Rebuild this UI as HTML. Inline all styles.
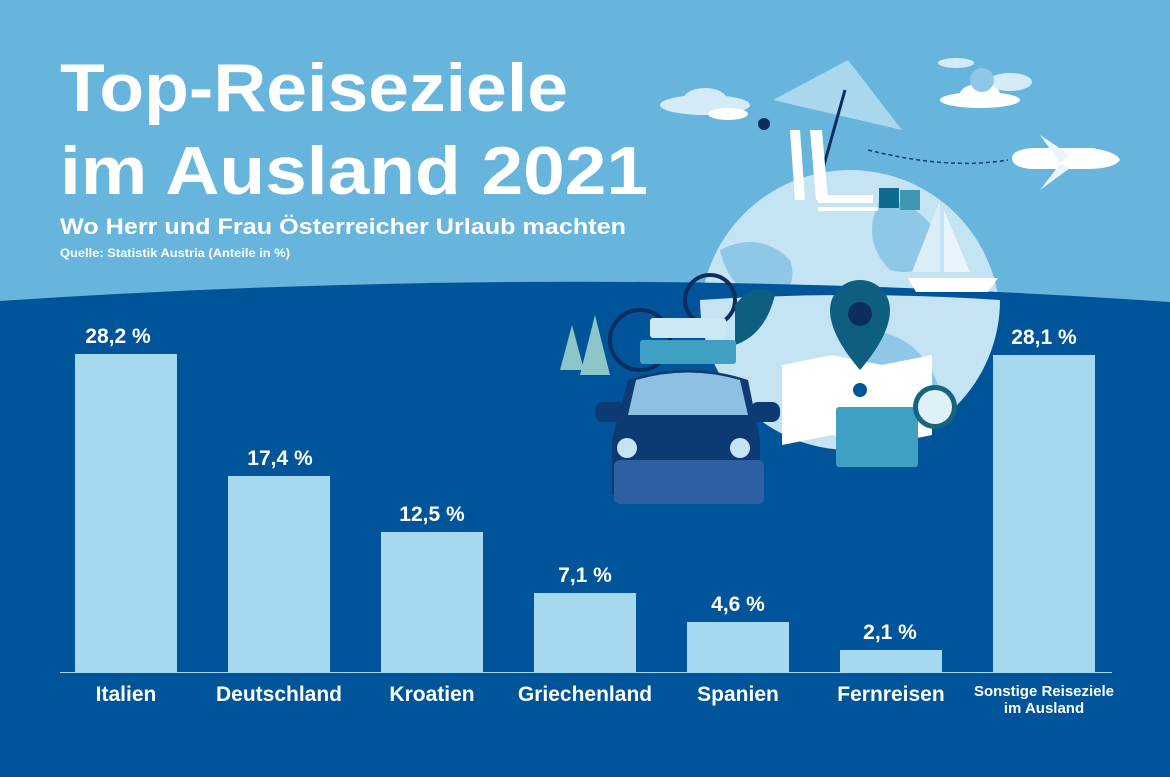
<!DOCTYPE html>
<html><head><meta charset="utf-8"><style>
html,body{margin:0;padding:0;width:1170px;height:777px;overflow:hidden;background:#00549a}
svg{display:block}
text{font-family:"Liberation Sans",sans-serif;font-weight:bold;fill:#fff}
</style></head><body>
<svg width="1170" height="777" viewBox="0 0 1170 777" xmlns="http://www.w3.org/2000/svg">
<rect width="1170" height="777" fill="#67b5dc"/>
<g fill="#d4ebf7">
<ellipse cx="705" cy="105" rx="45" ry="10"/><ellipse cx="705" cy="100" rx="22" ry="12"/>
<ellipse cx="956" cy="63" rx="18" ry="5"/>
<ellipse cx="1010" cy="82" rx="22" ry="9"/>
</g>
<g fill="#fff"><ellipse cx="728" cy="114" rx="20" ry="6"/><ellipse cx="980" cy="100" rx="40" ry="8"/><ellipse cx="980" cy="94" rx="20" ry="10"/></g>
<circle cx="982" cy="80" r="12" fill="#8fc8e6"/>
<circle cx="850" cy="320" r="150" fill="#c4e3f3"/>
<path d="M720 250 q40 -20 70 10 q10 30 -20 40 q-40 -5 -50 -50z M880 200 q40 0 60 40 q-10 40 -50 30 q-30 -30 -10 -70z M820 330 q40 -10 60 30 q0 50 -40 80 q-30 -40 -20 -110z" fill="#8fc8e6"/>
<path d="M773 100 L848 60 L902 130 Z" fill="#a9d7ee"/>
<line x1="845" y1="90" x2="822" y2="172" stroke="#0d2d5e" stroke-width="3"/>
<path d="M790 130 l10 0 l5 70 l-10 0z M810 130 l12 0 l6 70 l-12 0z" fill="#fff"/>
<circle cx="764" cy="124" r="6" fill="#0d2d5e"/>
<path d="M818 195 h55 v8 h-55z M818 207 h60 v4 h-60z" fill="#fff"/>
<rect x="879" y="188" width="20" height="20" fill="#0f6a8f"/><rect x="900" y="190" width="20" height="20" fill="#3f98b0"/>
<path d="M1012 158 q0 -8 20 -10 h60 q25 4 28 12 q-5 8 -30 9 h-60 q-18 -2 -18 -11z" fill="#fff"/>
<path d="M1040 135 l30 20 l-10 8z M1040 190 l30 -22 l-10 -4z" fill="#eaf5fb"/>
<path d="M868 150 q80 20 140 10" stroke="#0d3f7a" stroke-width="1.5" fill="none" stroke-dasharray="4 3"/>
<path d="M0 301 Q585 262 1170 302 L1170 777 L0 777 Z" fill="#00549a"/>
<path d="M700 300 A150 150 0 0 0 1000 300 Q850 290 700 300z" fill="#c4e3f3"/>
<path d="M860 330 q60 0 80 60 q-20 40 -60 50 q-30 -50 -20 -110z" fill="#8fc8e6"/>
<path d="M940 200 L940 272 L912 272 Z" fill="#dcefF9"/><path d="M944 210 L944 272 L970 272 Z" fill="#e8f5fc"/>
<path d="M908 278 h90 l-10 14 h-72 z" fill="#fff"/>
<path d="M782 365 l50 -10 l50 10 l50 -10 v80 l-50 10 l-50 -10 l-50 10z" fill="#fff"/>
<path d="M860 280 a30 30 0 0 1 30 30 q0 25 -30 60 q-30 -35 -30 -60 a30 30 0 0 1 30 -30z" fill="#0e5f7f"/>
<circle cx="860" cy="314" r="12" fill="#0d2d5e"/>
<circle cx="860" cy="390" r="7" fill="#00549a"/>
<rect x="836" y="407" width="82" height="60" rx="3" fill="#3fa0c4"/>
<circle cx="935" cy="407" r="22" fill="#16647f"/><circle cx="935" cy="407" r="17" fill="#dff0f9"/>
<path d="M560 370 l12 -45 l12 45z M580 375 l15 -60 l15 60z" fill="#8cc6c8"/>
<circle cx="640" cy="340" r="30" fill="none" stroke="#0d2d5e" stroke-width="4"/>
<circle cx="710" cy="300" r="25" fill="none" stroke="#0d2d5e" stroke-width="4"/>
<path d="M735 305 q20 -25 40 -10 q-10 40 -40 50z" fill="#0e5f7f"/>
<rect x="650" y="318" width="76" height="20" rx="3" fill="#cde7f4"/>
<rect x="640" y="340" width="96" height="24" rx="3" fill="#3fa0c4"/>
<path d="M628 380 q60 -20 120 0 l12 60 v55 h-148 v-55z" fill="#0d3a73"/>
<path d="M636 380 q52 -15 104 0 l8 35 h-120z" fill="#8ec0e4"/>
<rect x="595" y="402" width="30" height="20" rx="8" fill="#0d3a73"/><rect x="750" y="402" width="30" height="20" rx="8" fill="#0d3a73"/>
<rect x="614" y="460" width="150" height="44" rx="6" fill="#2f5ea2"/>
<circle cx="627" cy="448" r="10" fill="#c4e3f3"/><circle cx="740" cy="448" r="10" fill="#c4e3f3"/>
<g fill="#a6d8ef">
<rect x="75" y="354" width="102" height="318"/>
<rect x="228" y="476" width="102" height="196"/>
<rect x="381" y="532" width="102" height="140"/>
<rect x="534" y="593" width="102" height="79"/>
<rect x="687" y="622" width="102" height="50"/>
<rect x="840" y="650" width="102" height="22"/>
<rect x="993" y="355" width="102" height="317"/>
</g>
<line x1="60" y1="672.5" x2="1112" y2="672.5" stroke="#a6d8ef" stroke-width="1"/>
<g font-size="21" text-anchor="middle">
<text x="118" y="343">28,2 %</text>
<text x="280" y="465">17,4 %</text>
<text x="432" y="521">12,5 %</text>
<text x="585" y="582">7,1 %</text>
<text x="738" y="611">4,6 %</text>
<text x="890" y="639">2,1 %</text>
<text x="1044" y="344">28,1 %</text>
<text x="126" y="701">Italien</text>
<text x="279" y="701">Deutschland</text>
<text x="432" y="701">Kroatien</text>
<text x="585" y="701">Griechenland</text>
<text x="738" y="701">Spanien</text>
<text x="891" y="701">Fernreisen</text>
</g>
<g font-size="15" text-anchor="middle"><text x="1044" y="696">Sonstige Reiseziele</text><text x="1044" y="713">im Ausland</text></g>
<text x="60" y="111" font-size="68" textLength="508" lengthAdjust="spacingAndGlyphs">Top-Reiseziele</text>
<text x="60" y="194" font-size="68" textLength="588" lengthAdjust="spacingAndGlyphs">im Ausland 2021</text>
<text x="60" y="234" font-size="22" textLength="566" lengthAdjust="spacingAndGlyphs">Wo Herr und Frau Österreicher Urlaub machten</text>
<text x="60" y="257" font-size="12" textLength="230" lengthAdjust="spacingAndGlyphs">Quelle: Statistik Austria  (Anteile in %)</text>
</svg>
</body></html>
